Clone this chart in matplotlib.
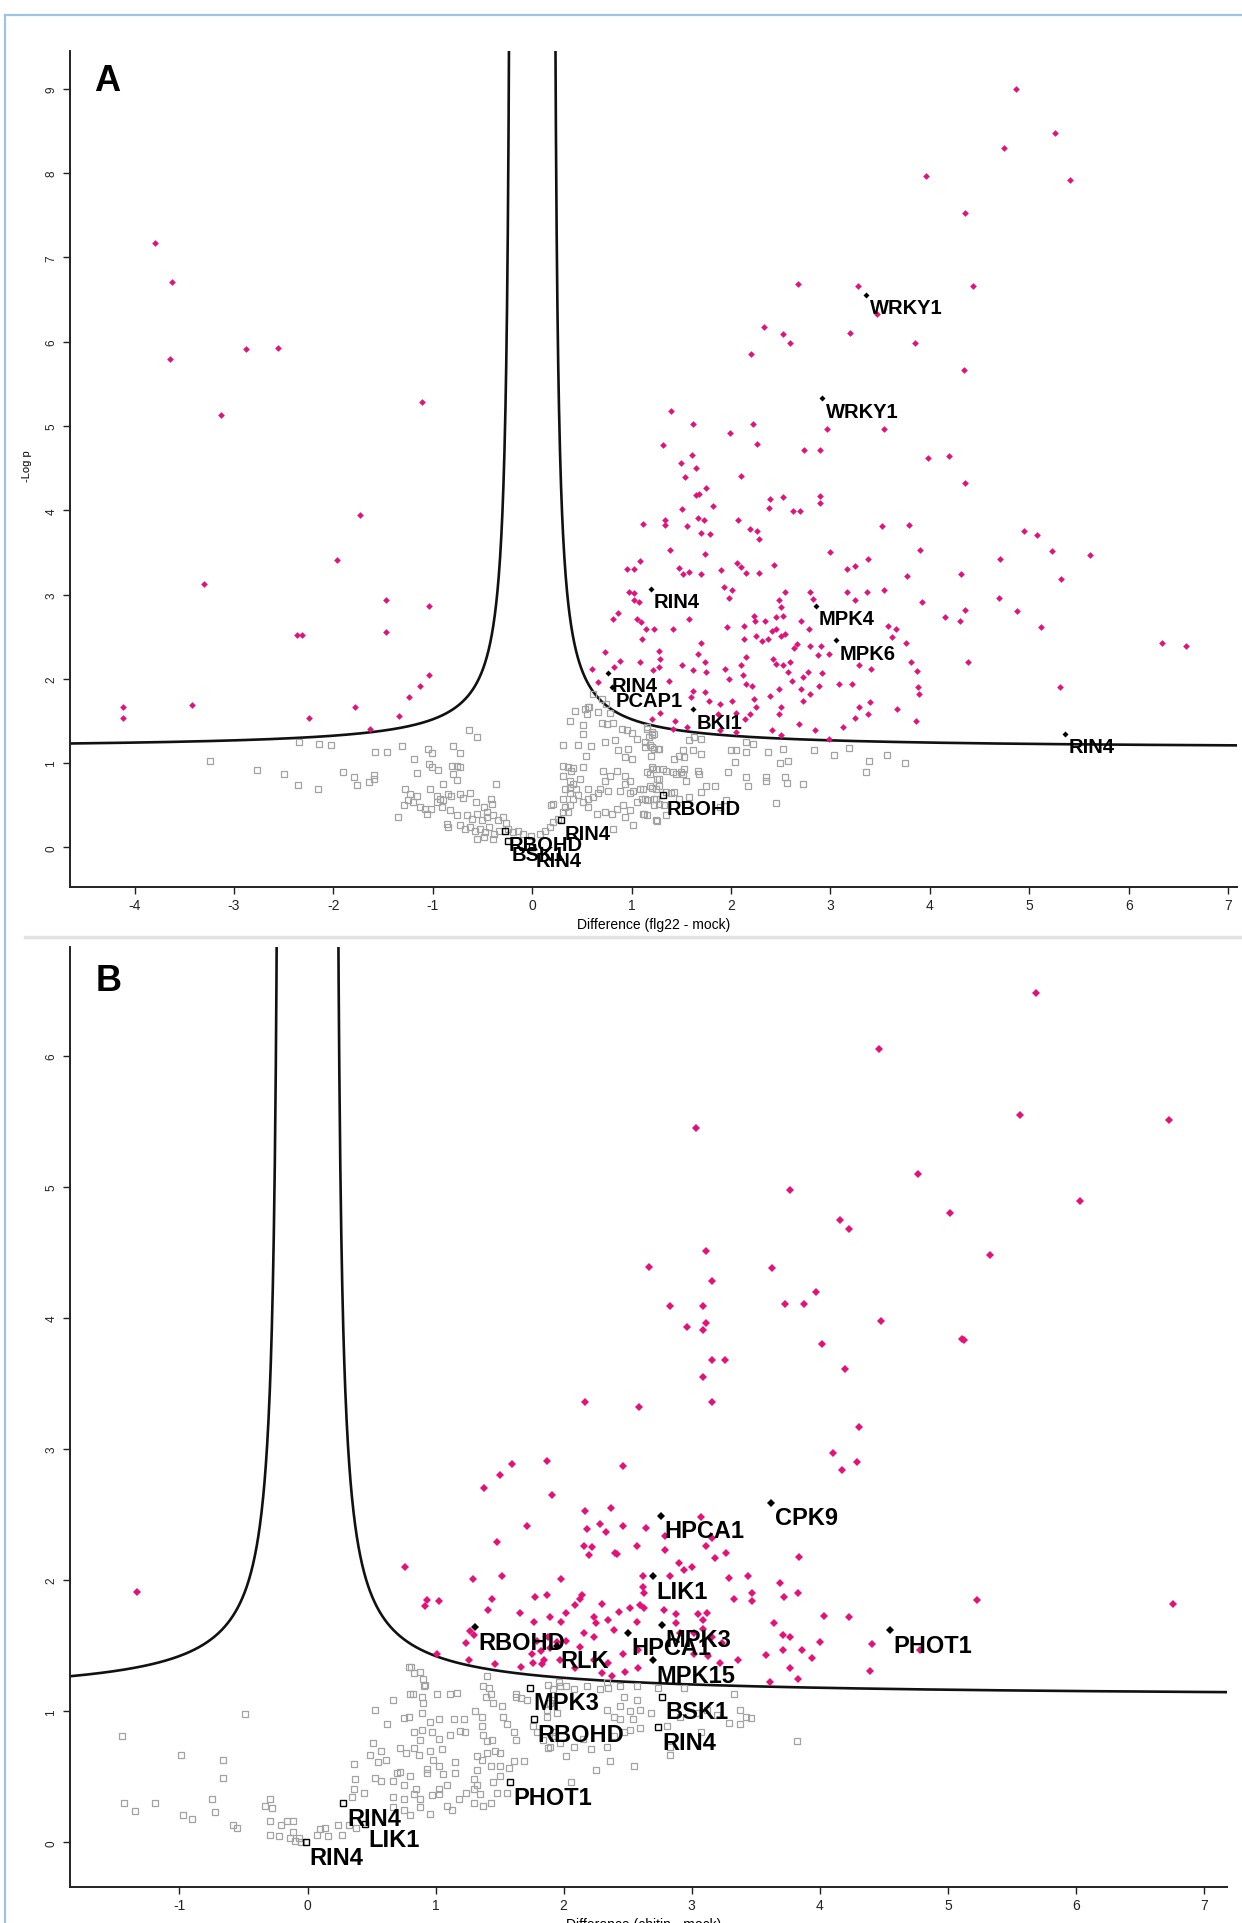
import numpy as np
import matplotlib.pyplot as plt
from matplotlib.lines import Line2D

plt.rcParams["font.family"] = ["Liberation Sans", "DejaVu Sans"]

PINK = "#e3127b"
GREY = "#a2a2a2"

# ---- panel A: flg22 - mock ; columns are difference, -log p
a_sig = np.array([
    [4.87, 9.00], [5.26, 8.48], [4.745, 8.30], [3.96, 7.97], [5.41, 7.92], [4.35, 7.53],
    [2.67, 6.68], [3.28, 6.66], [4.43, 6.66], [3.47, 6.33], [2.33, 6.17], [2.52, 6.09],
    [2.59, 5.98], [3.20, 6.10], [3.85, 5.98], [2.20, 5.86], [4.34, 5.66], [1.40, 5.18],
    [1.62, 5.02], [1.99, 4.92], [2.22, 5.02], [2.26, 4.79], [1.32, 4.78], [2.97, 4.97],
    [3.54, 4.97], [2.73, 4.71], [2.89, 4.71], [1.61, 4.66], [1.50, 4.56], [1.65, 4.50],
    [3.98, 4.62], [4.19, 4.64], [1.54, 4.40], [2.10, 4.41],
    [4.35, 4.32], [1.75, 4.27], [1.65, 4.18], [1.68, 4.19], [2.39, 4.13], [2.52, 4.16],
    [2.89, 4.17], [2.89, 4.09], [2.38, 4.03], [2.62, 3.99], [2.69, 3.99], [1.82, 4.05],
    [1.51, 4.02], [1.11, 3.84], [1.34, 3.89], [1.34, 3.83], [1.56, 3.81], [1.67, 3.91],
    [1.73, 3.89], [1.70, 3.73], [1.79, 3.72], [2.07, 3.89], [2.19, 3.78], [2.26, 3.75],
    [2.28, 3.66], [3.52, 3.81], [3.79, 3.83], [4.95, 3.75], [5.08, 3.71], [1.39, 3.53],
    [1.74, 3.48], [3.00, 3.50], [3.90, 3.53], [5.23, 3.52], [5.61, 3.47], [4.71, 3.42],
    [0.95, 3.30], [1.02, 3.30], [1.08, 3.40], [1.48, 3.32], [1.52, 3.24], [1.58, 3.27],
    [1.70, 3.24], [1.90, 3.29], [2.06, 3.37], [2.10, 3.33], [2.15, 3.26], [2.28, 3.26],
    [2.43, 3.35], [3.17, 3.30], [3.25, 3.34], [3.38, 3.42], [3.77, 3.22], [4.31, 3.24],
    [5.32, 3.19], [0.97, 3.03], [1.02, 3.02], [1.07, 2.91], [1.02, 2.93], [1.93, 3.09],
    [1.98, 2.96], [2.01, 3.05], [2.54, 3.03], [2.48, 2.93], [2.50, 2.85], [2.82, 2.95],
    [2.79, 3.03], [3.17, 3.03], [3.25, 2.93], [3.37, 3.03], [3.54, 3.05], [3.92, 2.91],
    [4.35, 2.82], [4.70, 2.96], [4.88, 2.81], [0.86, 2.78], [0.81, 2.71], [1.05, 2.71],
    [1.09, 2.68], [1.14, 2.59], [1.23, 2.59], [1.42, 2.59], [1.58, 2.71], [1.96, 2.61],
    [2.13, 2.63], [2.23, 2.75], [2.24, 2.69], [2.34, 2.69], [2.45, 2.73], [2.52, 2.75],
    [2.45, 2.59], [2.70, 2.69], [2.78, 2.59], [3.58, 2.63], [3.66, 2.59], [3.62, 2.50],
    [4.15, 2.73], [4.30, 2.69], [5.12, 2.61], [1.10, 2.47], [1.28, 2.33], [1.29, 2.24],
    [1.70, 2.43], [1.67, 2.30], [2.13, 2.47], [2.15, 2.26], [2.25, 2.51], [2.31, 2.45],
    [2.37, 2.47], [2.41, 2.57], [2.50, 2.51], [2.54, 2.53], [2.66, 2.41], [2.63, 2.37],
    [2.79, 2.39], [2.91, 2.39], [2.87, 2.28], [2.99, 2.30], [3.76, 2.43], [3.81, 2.20],
    [3.87, 2.09], [4.38, 2.20], [6.34, 2.43], [6.58, 2.39], [0.73, 2.32], [0.88, 2.21],
    [0.82, 2.14], [0.60, 2.12], [0.66, 1.96], [1.08, 2.20], [1.21, 2.11], [1.28, 2.14],
    [1.38, 1.98], [1.51, 2.16], [1.62, 2.10], [1.74, 2.20], [1.75, 2.08], [1.94, 2.12],
    [1.98, 2.00], [2.10, 2.16], [2.12, 2.04], [2.42, 2.24], [2.45, 2.18], [2.52, 2.16],
    [2.59, 2.20], [2.57, 2.08], [2.61, 1.98], [2.72, 2.02], [2.77, 2.08], [2.92, 2.07],
    [3.09, 1.94], [3.22, 1.94], [3.29, 2.16], [3.41, 2.12], [5.31, 1.90], [1.62, 1.86],
    [1.60, 1.78], [1.74, 1.84], [1.78, 1.74], [1.89, 1.70], [2.01, 1.74], [2.15, 1.94],
    [2.21, 1.92], [2.23, 1.76], [2.39, 1.80], [2.48, 1.88], [2.48, 1.58], [2.50, 1.66],
    [2.70, 1.88], [2.79, 1.82], [2.88, 1.92], [2.72, 1.74], [3.29, 1.66], [3.40, 1.72],
    [3.38, 1.58], [3.25, 1.54], [3.67, 1.64], [3.89, 1.82], [3.88, 1.90], [3.86, 1.50],
    [1.29, 1.60], [1.20, 1.52], [1.44, 1.50], [1.87, 1.58], [2.05, 1.60], [2.14, 1.52],
    [2.25, 1.66], [2.19, 1.58], [2.68, 1.47], [2.84, 1.39], [2.99, 1.29], [3.13, 1.43],
    [2.41, 1.39], [2.50, 1.33], [2.05, 1.37], [1.89, 1.39], [1.56, 1.43], [1.42, 1.41],
    [-3.79, 7.17], [-3.62, 6.71], [-3.64, 5.79], [-2.88, 5.91], [-2.56, 5.93], [-3.13, 5.13],
    [-1.11, 5.28], [-1.73, 3.94], [-1.96, 3.41], [-3.30, 3.12], [-1.04, 2.87], [-1.47, 2.93],
    [-1.47, 2.55], [-2.32, 2.52], [-2.37, 2.52], [-1.04, 2.05], [-1.13, 1.91], [-1.24, 1.79],
    [-1.78, 1.67], [-2.25, 1.53], [-3.42, 1.69], [-4.12, 1.67], [-4.12, 1.53], [-1.34, 1.56],
    [-1.63, 1.41],
])

a_ns = np.array([
    [-3.24, 1.02], [-2.77, 0.92], [-2.50, 0.87], [-2.36, 0.74], [-2.16, 0.69], [-2.35, 1.25],
    [-2.15, 1.23], [-2.02, 1.22], [-1.90, 0.89], [-1.79, 0.84], [-1.76, 0.74], [-1.64, 0.78],
    [-1.59, 0.81], [-1.59, 0.86], [-1.58, 1.13], [-1.46, 1.13], [-1.31, 1.20], [-1.19, 1.05],
    [-1.16, 0.88], [-1.05, 1.17], [-1.01, 1.12], [-1.04, 0.99], [-1.01, 0.95], [-0.95, 0.92],
    [-0.80, 1.20], [-0.73, 1.12], [-0.81, 0.97], [-0.76, 0.96], [-0.73, 0.95], [-0.80, 0.87],
    [-0.76, 0.80], [-0.90, 0.75], [-0.64, 1.39], [-0.56, 1.31], [-0.36, 0.75], [-1.28, 0.69],
    [-1.23, 0.63], [-1.16, 0.61], [-1.25, 0.56], [-1.20, 0.54], [-1.29, 0.50], [-1.35, 0.36],
    [-1.13, 0.48], [-1.08, 0.46], [-1.02, 0.46], [-1.06, 0.40], [-1.03, 0.69], [-0.96, 0.61],
    [-0.93, 0.57], [-0.90, 0.56], [-0.91, 0.48], [-0.96, 0.54], [-0.85, 0.63], [-0.82, 0.61],
    [-0.73, 0.63], [-0.70, 0.59], [-0.63, 0.64], [-0.57, 0.54], [-0.83, 0.44], [-0.76, 0.39],
    [-0.86, 0.28], [-0.85, 0.24], [-0.41, 0.57], [-0.40, 0.52], [-0.49, 0.48], [-0.46, 0.42],
    [-0.66, 0.38], [-0.61, 0.34], [-0.56, 0.40], [-0.51, 0.32], [-0.46, 0.36], [-0.39, 0.38],
    [-0.34, 0.32], [-0.29, 0.36], [-0.26, 0.29], [-0.73, 0.26], [-0.68, 0.22], [-0.63, 0.24],
    [-0.58, 0.19], [-0.53, 0.22], [-0.48, 0.18], [-0.43, 0.24], [-0.38, 0.16], [-0.33, 0.20],
    [-0.24, 0.22], [-0.56, 0.10], [-0.49, 0.12], [-0.39, 0.10], [-0.19, 0.18], [-0.14, 0.20],
    [-0.09, 0.16], [-0.01, 0.14], [0.08, 0.16], [0.13, 0.20], [0.18, 0.24], [0.21, 0.30],
    [0.26, 0.34], [0.31, 0.42], [0.33, 0.48], [0.38, 0.50], [0.36, 0.42], [0.19, 0.50],
    [0.21, 0.52], [0.31, 0.58], [0.41, 0.58], [0.46, 0.62], [0.51, 0.54], [0.56, 0.58],
    [0.61, 0.60], [0.33, 0.69], [0.38, 0.71], [0.44, 0.69], [0.56, 0.69], [0.38, 0.64],
    [0.31, 0.85], [0.38, 0.79], [0.48, 0.81], [0.41, 0.75], [0.31, 0.97], [0.36, 0.95],
    [0.41, 0.94], [0.51, 0.95], [0.39, 0.91], [0.31, 1.21], [0.46, 1.21], [0.59, 1.20],
    [0.54, 1.08], [0.38, 1.50], [0.51, 1.45], [0.51, 1.35], [0.66, 1.61], [0.43, 1.62],
    [0.53, 1.64], [0.56, 1.66], [0.75, 1.47], [0.81, 1.48], [0.78, 1.60], [0.73, 1.25],
    [0.83, 1.27], [0.86, 1.15], [0.96, 1.17], [0.93, 1.07], [1.00, 1.05], [1.05, 1.29],
    [0.95, 1.39], [0.71, 0.91], [0.73, 0.79], [0.78, 0.85], [0.85, 0.91], [0.93, 0.85],
    [0.98, 0.79], [0.93, 0.75], [1.01, 0.67], [0.66, 0.64], [0.68, 0.69], [0.76, 0.67],
    [0.88, 0.67], [0.98, 0.65], [1.08, 0.69], [1.13, 0.58], [0.56, 0.48], [0.65, 0.40],
    [0.73, 0.42], [0.80, 0.40], [0.85, 0.46], [0.91, 0.50], [0.98, 0.44], [1.05, 0.54],
    [0.93, 0.36], [1.01, 0.26], [0.81, 0.22], [1.12, 0.40], [1.25, 0.32], [1.15, 0.89],
    [1.20, 0.95], [1.25, 0.93], [1.32, 0.93], [1.28, 0.81], [1.18, 0.73], [1.25, 0.58],
    [1.23, 0.50], [1.15, 1.43], [1.20, 1.37], [1.17, 1.31], [1.13, 1.19], [1.20, 1.19],
    [1.27, 1.17], [1.15, 1.41], [1.20, 1.33], [1.23, 1.35], [1.13, 1.25], [1.18, 1.21],
    [1.23, 1.17], [1.28, 1.17], [1.19, 1.08], [1.43, 1.05], [1.48, 1.09], [1.53, 1.07],
    [1.52, 1.15], [1.62, 1.15], [1.70, 1.11], [1.58, 1.27], [1.63, 1.31], [1.70, 1.29],
    [1.21, 0.93], [1.35, 0.91], [1.42, 0.89], [1.45, 0.87], [1.50, 0.89], [1.53, 0.93],
    [1.52, 0.87], [1.67, 0.91], [1.68, 0.87], [1.55, 0.79], [1.26, 0.81], [1.18, 0.87],
    [1.20, 0.71], [1.25, 0.69], [1.28, 0.73], [1.35, 0.66], [1.40, 0.64], [1.43, 0.66],
    [1.11, 0.69], [1.10, 0.58], [1.15, 0.56], [1.23, 0.58], [1.28, 0.52], [1.33, 0.50],
    [1.11, 0.40], [1.15, 0.38], [1.26, 0.31], [1.35, 0.38], [1.58, 0.60], [1.48, 0.58],
    [1.70, 0.66], [1.75, 0.73], [1.84, 0.73], [1.95, 0.56], [1.89, 0.48], [1.97, 0.89],
    [2.04, 1.01], [2.00, 1.15], [2.05, 1.15], [2.15, 1.13], [2.15, 1.25], [2.22, 1.23],
    [2.15, 0.84], [2.17, 0.73], [2.35, 0.84], [2.37, 1.13], [2.35, 0.79], [2.49, 1.00],
    [2.57, 1.02], [2.52, 1.17], [2.54, 0.84], [2.56, 0.77], [2.72, 0.75], [2.45, 0.53],
    [2.83, 1.16], [3.04, 1.10], [3.19, 1.18], [3.36, 0.90], [3.39, 1.03], [3.57, 1.10],
    [3.75, 1.00], [0.61, 1.82], [0.57, 1.66], [0.55, 1.58], [0.70, 1.48], [0.90, 1.40],
    [1.00, 1.36], [0.70, 1.76], [0.74, 1.70],
])

# labelled proteins: name, difference, -log p, significant
a_labels = [
    ("WRKY1", 3.36, 6.56, True), ("WRKY1", 2.92, 5.33, True), ("RIN4", 1.19, 3.07, True),
    ("MPK4", 2.85, 2.87, True), ("MPK6", 3.06, 2.46, True), ("RIN4", 0.76, 2.07, True),
    ("PCAP1", 0.80, 1.90, True), ("BKI1", 1.62, 1.64, True), ("RIN4", 5.36, 1.35, True),
    ("RBOHD", 1.32, 0.62, False), ("RIN4", 0.29, 0.32, False), ("RBOHD", -0.27, 0.19, False),
    ("BSK1", -0.24, 0.07, False), ("RIN4", 0.00, 0.00, False),
]

# ---- panel B: chitin - mock
b_sig = np.array([
    [5.69, 6.48], [4.46, 6.05], [3.03, 5.45], [5.56, 5.55], [6.73, 5.51], [4.77, 5.10],
    [3.77, 4.98], [6.03, 4.89], [5.02, 4.80], [4.16, 4.75], [4.23, 4.68], [5.33, 4.48],
    [3.11, 4.51], [2.67, 4.39], [3.63, 4.38], [3.16, 4.28], [3.97, 4.20], [3.73, 4.11],
    [3.88, 4.11], [2.83, 4.09], [3.09, 4.09], [3.11, 3.96], [2.96, 3.93], [3.09, 3.91],
    [4.48, 3.98], [5.13, 3.83], [4.02, 3.80], [3.16, 3.68], [3.26, 3.68], [4.20, 3.61],
    [3.09, 3.55], [2.17, 3.36], [2.59, 3.32], [3.16, 3.36], [5.11, 3.84],
    [4.31, 3.17], [4.10, 2.97], [4.29, 2.90], [4.17, 2.84], [1.60, 2.89], [1.50, 2.80],
    [1.38, 2.70], [1.87, 2.91], [1.91, 2.65], [2.46, 2.87], [2.17, 2.53], [2.37, 2.55],
    [2.28, 2.43], [2.33, 2.37], [2.18, 2.39], [2.46, 2.41], [2.64, 2.40], [1.71, 2.41],
    [1.48, 2.29], [3.07, 2.48], [3.11, 2.26], [3.16, 2.32], [3.27, 2.21], [3.18, 2.17],
    [2.79, 2.34], [2.79, 2.23], [2.57, 2.26], [2.16, 2.26], [2.22, 2.25], [2.20, 2.19],
    [2.40, 2.21], [2.42, 2.20], [3.84, 2.18], [0.76, 2.10], [2.90, 2.13], [2.94, 2.08],
    [3.00, 2.10], [2.62, 2.03], [2.62, 1.95], [2.63, 1.90], [2.83, 2.03], [3.29, 2.02],
    [3.44, 2.03], [3.69, 1.98], [3.83, 1.90], [3.72, 1.87], [3.47, 1.90], [3.47, 1.84],
    [3.33, 1.86], [1.29, 2.01], [1.52, 2.03], [1.98, 2.01], [0.93, 1.85], [1.03, 1.84],
    [0.92, 1.80], [1.44, 1.86], [1.41, 1.77], [1.66, 1.75], [1.78, 1.87], [1.87, 1.89],
    [2.14, 1.89], [2.13, 1.86], [2.09, 1.81], [2.02, 1.75], [1.89, 1.72], [1.77, 1.68],
    [1.98, 1.68], [2.30, 1.82], [2.24, 1.72], [2.35, 1.70], [2.43, 1.76], [2.52, 1.79],
    [2.60, 1.81], [2.63, 1.79], [2.78, 1.77], [2.88, 1.74], [3.05, 1.74], [3.12, 1.75],
    [3.09, 1.70], [4.03, 1.73], [4.23, 1.72], [2.57, 1.68], [2.25, 1.67], [2.39, 1.62],
    [2.16, 1.60], [2.24, 1.57], [2.13, 1.49], [2.02, 1.54], [1.88, 1.57], [1.79, 1.54],
    [1.75, 1.44], [1.85, 1.39], [2.09, 1.33], [2.24, 1.39], [2.35, 1.37], [2.46, 1.44],
    [2.58, 1.47], [2.58, 1.33], [2.48, 1.30], [2.38, 1.27], [2.30, 1.29], [2.88, 1.67],
    [2.91, 1.60], [3.02, 1.60], [3.09, 1.63], [3.16, 1.57], [3.24, 1.52], [3.02, 1.44],
    [3.13, 1.42], [3.22, 1.37], [3.36, 1.39], [3.58, 1.43], [3.71, 1.47], [3.64, 1.67],
    [3.71, 1.58], [3.77, 1.57], [3.86, 1.47], [3.94, 1.41], [3.77, 1.33], [3.83, 1.25],
    [4.00, 1.53], [4.41, 1.51], [4.39, 1.31], [4.78, 1.47], [1.26, 1.39], [1.46, 1.36],
    [1.67, 1.34], [1.24, 1.52], [1.01, 1.44], [3.61, 1.22], [-1.33, 1.91], [6.76, 1.82],
    [5.23, 1.85], [1.27, 1.61], [1.30, 1.58], [1.76, 1.37], [1.83, 1.36], [1.82, 1.46],
    [1.89, 1.48], [1.95, 1.53], [1.97, 1.39],
])

b_ns = np.array([
    [-1.45, 0.81], [-0.49, 0.98], [-0.99, 0.67], [-0.66, 0.63], [-0.66, 0.49], [-1.43, 0.30],
    [-1.35, 0.24], [-1.19, 0.30], [-0.97, 0.21], [-0.90, 0.18], [-0.75, 0.33], [-0.72, 0.23],
    [-0.58, 0.13], [-0.55, 0.11], [-0.29, 0.33], [-0.28, 0.26], [-0.33, 0.28], [-0.29, 0.16],
    [-0.21, 0.13], [-0.16, 0.16], [-0.11, 0.16], [-0.29, 0.06], [-0.22, 0.05], [-0.14, 0.03],
    [-0.10, 0.01], [-0.07, 0.03], [-0.05, 0.00], [-0.11, 0.08], [0.07, 0.06], [0.10, 0.10],
    [0.14, 0.11], [0.16, 0.05], [0.24, 0.13], [0.27, 0.06], [0.32, 0.13], [0.38, 0.11],
    [0.36, 0.60], [0.37, 0.48], [0.36, 0.41], [0.35, 0.35], [0.44, 0.38], [0.51, 0.76],
    [0.57, 0.70], [0.49, 0.67], [0.55, 0.61], [0.61, 0.63], [0.53, 0.49], [0.57, 0.47],
    [0.67, 0.47], [0.70, 0.53], [0.53, 1.01], [0.67, 1.09], [0.62, 0.90], [0.72, 0.72],
    [0.77, 0.68], [0.83, 0.72], [0.87, 0.67], [0.75, 0.95], [0.79, 0.96], [0.89, 0.99],
    [0.83, 0.84], [0.89, 0.86], [0.88, 0.78], [0.80, 1.13], [0.89, 1.11], [0.90, 1.06],
    [1.01, 1.13], [1.11, 1.13], [1.17, 1.14], [0.81, 1.34], [0.88, 1.30], [0.90, 1.25],
    [0.92, 1.20], [0.96, 0.92], [1.03, 0.94], [0.97, 0.84], [1.03, 0.79], [1.11, 0.82],
    [1.14, 0.94], [1.22, 0.94], [0.96, 0.70], [1.05, 0.71], [0.98, 0.63], [1.03, 0.58],
    [0.93, 0.56], [0.72, 0.54], [0.80, 0.51], [0.75, 0.44], [0.85, 0.41], [0.93, 0.53],
    [1.06, 0.52], [1.15, 0.61], [1.15, 0.53], [1.09, 0.44], [1.03, 0.41], [0.67, 0.35],
    [0.75, 0.33], [0.83, 0.37], [0.88, 0.33], [0.97, 0.36], [1.03, 0.37], [0.88, 0.27],
    [0.96, 0.22], [0.67, 0.27], [0.75, 0.25], [0.80, 0.21], [1.09, 0.28], [1.13, 0.25],
    [1.18, 0.33], [1.24, 0.38], [1.30, 0.41], [1.35, 0.37], [1.30, 0.30], [1.37, 0.28],
    [1.43, 0.30], [1.48, 0.38], [1.56, 0.38], [1.19, 0.85], [1.23, 0.84], [1.31, 1.00],
    [1.36, 0.96], [1.36, 0.89], [1.37, 0.82], [1.40, 0.77], [1.44, 0.78], [1.32, 0.66],
    [1.36, 0.63], [1.40, 0.68], [1.46, 0.70], [1.50, 0.68], [1.43, 0.58], [1.50, 0.58],
    [1.57, 0.57], [1.61, 0.62], [1.69, 0.62], [1.32, 0.55], [1.30, 0.48], [1.32, 0.44],
    [1.50, 0.51], [1.45, 0.46], [1.40, 1.27], [1.42, 1.18], [1.39, 1.11], [1.45, 1.06],
    [1.52, 1.04], [1.53, 0.96], [1.56, 0.90], [1.61, 0.84], [1.63, 0.78], [1.63, 1.11],
    [1.67, 1.10], [1.71, 1.09], [1.76, 0.89], [1.79, 0.84], [1.84, 0.78], [1.88, 0.72],
    [1.93, 0.81], [1.89, 1.06], [1.87, 0.96], [1.95, 0.99], [1.92, 1.17], [2.47, 1.11],
    [2.57, 1.09], [2.60, 1.01], [2.52, 1.00], [2.44, 1.04], [2.39, 0.96], [2.34, 1.01],
    [2.44, 0.94], [2.54, 0.94], [2.60, 0.87], [2.68, 0.99], [2.52, 0.86], [2.47, 0.84],
    [2.39, 0.81], [2.34, 0.73], [2.21, 0.71], [2.15, 0.79], [2.08, 0.73], [2.02, 0.66],
    [1.97, 0.76], [1.92, 0.84], [1.89, 0.73], [1.87, 1.01], [1.92, 1.09], [1.97, 1.19],
    [2.08, 1.17], [2.18, 1.19], [2.28, 1.17], [2.34, 1.22], [2.44, 1.19], [2.57, 1.19],
    [2.81, 0.89], [2.83, 0.73], [2.91, 0.96], [3.04, 0.99], [3.12, 1.01], [3.33, 1.13],
    [3.38, 1.01], [3.46, 0.95], [3.38, 0.90], [3.82, 0.77], [3.07, 0.84], [0.79, 1.34],
    [0.83, 1.29], [0.91, 1.19], [0.82, 1.13], [1.37, 1.19], [1.43, 1.13], [1.63, 1.13],
    [1.88, 1.20], [1.96, 1.22], [2.02, 1.19], [2.35, 1.18], [2.74, 1.18], [2.94, 1.18],
    [3.42, 0.96], [3.29, 0.91], [3.20, 0.97], [2.83, 0.67], [2.55, 0.58], [2.06, 0.46],
    [2.36, 0.62], [2.25, 0.55],
])

b_labels = [
    ("CPK9", 3.62, 2.59, True), ("HPCA1", 2.76, 2.49, True), ("LIK1", 2.70, 2.03, True),
    ("RBOHD", 1.31, 1.64, True), ("RLK", 1.95, 1.50, True), ("HPCA1", 2.50, 1.60, True),
    ("MPK3", 2.77, 1.66, True), ("MPK15", 2.70, 1.39, True), ("PHOT1", 4.55, 1.62, True),
    ("MPK3", 1.74, 1.18, False), ("BSK1", 2.77, 1.11, False), ("RBOHD", 1.77, 0.94, False),
    ("RIN4", 2.74, 0.88, False), ("PHOT1", 1.58, 0.46, False), ("RIN4", 0.28, 0.30, False),
    ("LIK1", 0.45, 0.14, False), ("RIN4", -0.01, 0.00, False),
]

# significance curve y = a + c / (|x| - x0)^k, fitted by eye to the picture
a_curve = (1.17, 0.28, 0.20, 1.0)
b_curve = (1.10, 0.261, 0.21, 0.89)


def draw_panel(ax, sig, ns, labels, curve, xlim, ylim, xticks, yticks, ms_d, ms_s, fs):
    a, c, x0, k = curve
    for side in (-1, 1):
        xs = np.linspace(x0 + 0.0015, 8, 3000)
        ax.plot(side * xs, a + c * (xs - x0) ** -k, color="#111111", lw=1.9, zorder=2)

    ax.plot(ns[:, 0], ns[:, 1], "s", ms=ms_s, mfc="none", mec=GREY, mew=0.9, zorder=3)
    ax.plot(sig[:, 0], sig[:, 1], "D", ms=ms_d, color=PINK, mew=0, zorder=4)

    for name, x, y, is_sig in labels:
        if is_sig:
            ax.plot(x, y, "D", ms=ms_d * 0.9, color="black", mew=0, zorder=5)
        else:
            ax.plot(x, y, "s", ms=ms_s, mfc="none", mec="black", mew=1.0, zorder=5)
        ax.annotate(name, (x, y), xytext=(2.5, -2.5), textcoords="offset points",
                    ha="left", va="top", fontsize=fs, fontweight="bold", zorder=6)

    ax.set_xlim(*xlim)
    ax.set_ylim(*ylim)
    ax.set_xticks(xticks)
    ax.set_yticks(yticks)
    ax.set_xticklabels([str(t) for t in xticks], fontsize=10)
    ax.set_yticklabels([str(t) for t in yticks], fontsize=8.5, rotation=90, va="center")
    ax.tick_params(direction="out", length=5, width=1, colors="#222222", pad=3)
    ax.tick_params(axis="y", pad=4)
    for s in ("top", "right"):
        ax.spines[s].set_visible(False)
    for s in ("left", "bottom"):
        ax.spines[s].set_linewidth(1.4)
        ax.spines[s].set_color("#222222")


fig = plt.figure(figsize=(12.42, 19.24), dpi=100)
W, H = 1242, 1924

ax_a = fig.add_axes([70 / W, 1 - 888 / H, 1167 / W, 836 / H])
draw_panel(ax_a, a_sig, a_ns, a_labels, a_curve, (-4.65, 7.09), (-0.47, 9.45),
           list(range(-4, 8)), list(range(0, 10)), 3.4, 3.9, 14.5)

ax_b = fig.add_axes([70 / W, 1 - 1888 / H, 1157 / W, 940 / H])
draw_panel(ax_b, b_sig, b_ns, b_labels, b_curve, (-1.855, 7.18), (-0.34, 6.83),
           list(range(-1, 8)), list(range(0, 7)), 4.0, 4.4, 17)

fig.text(94 / W, 1 - 91 / H, "A", fontsize=26, fontweight="bold", va="baseline")
fig.text(96 / W, 1 - 991 / H, "B", fontsize=26, fontweight="bold", va="baseline")
fig.text(27 / W, 1 - 466 / H, "-Log p", fontsize=8, rotation=90, ha="center", va="center")
fig.text(654 / W, 1 - 925 / H, "Difference (flg22 - mock)", fontsize=10, ha="center", va="center")
fig.text(644 / W, 1 - 1918 / H, "Difference (chitin - mock)", fontsize=10, ha="center", va="top")

# window frame and separator seen in the screenshot
fig.add_artist(Line2D([5 / W, 1], [1 - 16 / H, 1 - 16 / H], color="#9dc3e8", lw=1.6))
fig.add_artist(Line2D([4.5 / W, 4.5 / W], [0, 1 - 16 / H], color="#9dc3e8", lw=1.6))
fig.add_artist(Line2D([25 / W, 1], [1 - 938 / H, 1 - 938 / H], color="#e2e2e2", lw=2.5))

fig.savefig("out.png", dpi=100)
